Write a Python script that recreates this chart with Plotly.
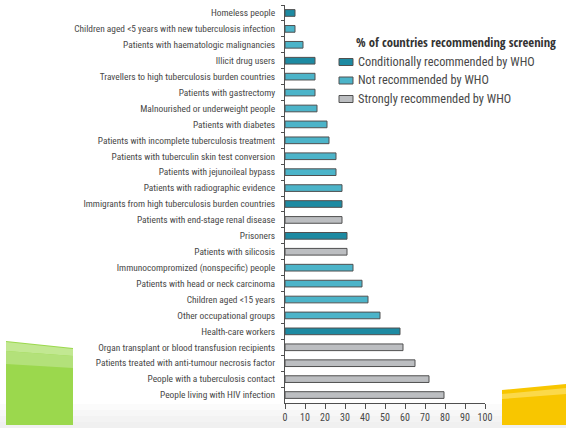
import plotly.graph_objects as go

# Risk groups, listed top to bottom
groups = [
    "Homeless people",
    "Children aged <5 years with new tuberculosis infection",
    "Patients with haematologic malignancies",
    "Illicit drug users",
    "Travellers to high tuberculosis burden countries",
    "Patients with gastrectomy",
    "Malnourished or underweight people",
    "Patients with diabetes",
    "Patients with incomplete tuberculosis treatment",
    "Patients with tuberculin skin test conversion",
    "Patients with jejunoileal bypass",
    "Patients with radiographic evidence",
    "Immigrants from high tuberculosis burden countries",
    "Patients with end-stage renal disease",
    "Prisoners",
    "Patients with silicosis",
    "Immunocompromized (nonspecific) people",
    "Patients with head or neck carcinoma",
    "Children aged <15 years",
    "Other occupational groups",
    "Health-care workers",
    "Organ transplant or blood transfusion recipients",
    "Patients treated with anti-tumour necrosis factor",
    "People with a tuberculosis contact",
    "People living with HIV infection",
]

# % of countries recommending screening
pct = [5, 5, 9, 15, 15, 15, 16, 21, 22, 25.5, 25.5, 28.5, 28.5, 28.5,
       31, 31, 34, 38.5, 41.5, 47.5, 57.5, 59, 65, 72, 79.5]

# WHO recommendation status of each group
who_status = ["C", "N", "N", "C", "N", "N", "N", "N", "N", "N", "N", "N", "C", "S",
              "C", "S", "N", "N", "N", "N", "C", "S", "S", "S", "S"]

status_names = {
    "C": "Conditionally recommended by WHO",
    "N": "Not recommended by WHO",
    "S": "Strongly recommended by WHO",
}
legend_title = "% of countries recommending screening"

x_ticks = list(range(0, 101, 10))

status_colors = {"C": "#1d8aa2", "N": "#4cb4c9", "S": "#bcbec1"}
edge = "#505050"
font_family = "Roboto Condensed, Arial Narrow, sans-serif"
text_grey = "#484848"

fig = go.Figure()
fig.add_trace(go.Bar(
    y=groups,
    x=pct,
    orientation="h",
    marker=dict(color=[status_colors[s] for s in who_status],
                line=dict(color=edge, width=1)),
    width=0.42,
    hoverinfo="x+y",
    showlegend=False,
))

fig.update_layout(
    width=566, height=428,
    margin=dict(l=285, r=81, t=5, b=25),
    paper_bgcolor="white",
    plot_bgcolor="rgba(0,0,0,0)",
    font=dict(family=font_family, color=text_grey, size=10),
    showlegend=False,
)

fig.update_yaxes(
    type="category",
    categoryorder="array", categoryarray=groups,
    autorange="reversed",
    showline=True, linecolor=edge, linewidth=1,
    ticks="outside", tickson="boundaries", ticklen=3, tickcolor=edge,
    showgrid=False, zeroline=False,
    tickfont=dict(size=9.4, color=text_grey),
    ticklabelstandoff=7,
)
fig.update_xaxes(
    range=[0, 100],
    tickvals=x_ticks,
    showline=True, linecolor=edge, linewidth=1,
    ticks="outside", ticklen=5, tickcolor=edge,
    showgrid=False, zeroline=False,
    tickfont=dict(size=10, color=text_grey),
)

# Pixel helpers for paper coordinates (plot area spans x 285..485, y 5..403)
px = lambda v: (v - 285) / 200
py = lambda v: (403 - v) / 398

# Faint grey floor along the bottom edge
for y0, c in [(404, "#fbfbfb"), (410, "#f7f7f7"), (416, "#f3f3f3"), (422, "#f0f0f0")]:
    fig.add_shape(type="rect", xref="paper", yref="paper", layer="below",
                  x0=px(0), x1=px(566), y0=py(428), y1=py(y0),
                  fillcolor=c, line=dict(width=0))

# Green and yellow corner panels, each with a soft highlight band
fig.add_shape(type="path", xref="paper", yref="paper", layer="below",
              path=f"M {px(6)},{py(341)} L {px(73)},{py(348)} L {px(73)},{py(425)} L {px(6)},{py(425)} Z",
              fillcolor="#9bd84d", line=dict(width=0))
fig.add_shape(type="path", xref="paper", yref="paper", layer="below",
              path=f"M {px(6)},{py(342)} L {px(73)},{py(349)} L {px(73)},{py(356)} L {px(6)},{py(351)} Z",
              fillcolor="#c2e892", line=dict(width=0))
fig.add_shape(type="path", xref="paper", yref="paper", layer="below",
              path=f"M {px(6)},{py(351)} L {px(73)},{py(356)} L {px(73)},{py(368)} L {px(6)},{py(364)} Z",
              fillcolor="#b3e17a", line=dict(width=0))
fig.add_shape(type="path", xref="paper", yref="paper", layer="below",
              path=f"M {px(502)},{py(390)} L {px(566)},{py(384)} L {px(566)},{py(425)} L {px(502)},{py(425)} Z",
              fillcolor="#f8c600", line=dict(width=0))
fig.add_shape(type="path", xref="paper", yref="paper", layer="below",
              path=f"M {px(502)},{py(394)} L {px(566)},{py(388)} L {px(566)},{py(394)} L {px(502)},{py(399)} Z",
              fillcolor="#fbd94a", line=dict(width=0))

# Legend block
fig.add_annotation(xref="paper", yref="paper", x=px(354), y=py(41.5),
                   xanchor="left", yanchor="middle", showarrow=False,
                   text=legend_title,
                   font=dict(family="Open Sans Condensed, Roboto Condensed, sans-serif",
                             weight=700, size=12.7, color="#333333"))
for i, key in enumerate(["C", "N", "S"]):
    yc = 62 + i * 18.5
    fig.add_shape(type="rect", xref="paper", yref="paper",
                  x0=px(339), x1=px(353), y0=py(yc - 3.5), y1=py(yc + 3.5),
                  fillcolor=status_colors[key], line=dict(color=edge, width=1))
    fig.add_annotation(xref="paper", yref="paper", x=px(356), y=py(yc),
                       xanchor="left", yanchor="middle", showarrow=False,
                       text=status_names[key],
                       font=dict(size=12.3, color=text_grey))

fig.write_html("out.html")
